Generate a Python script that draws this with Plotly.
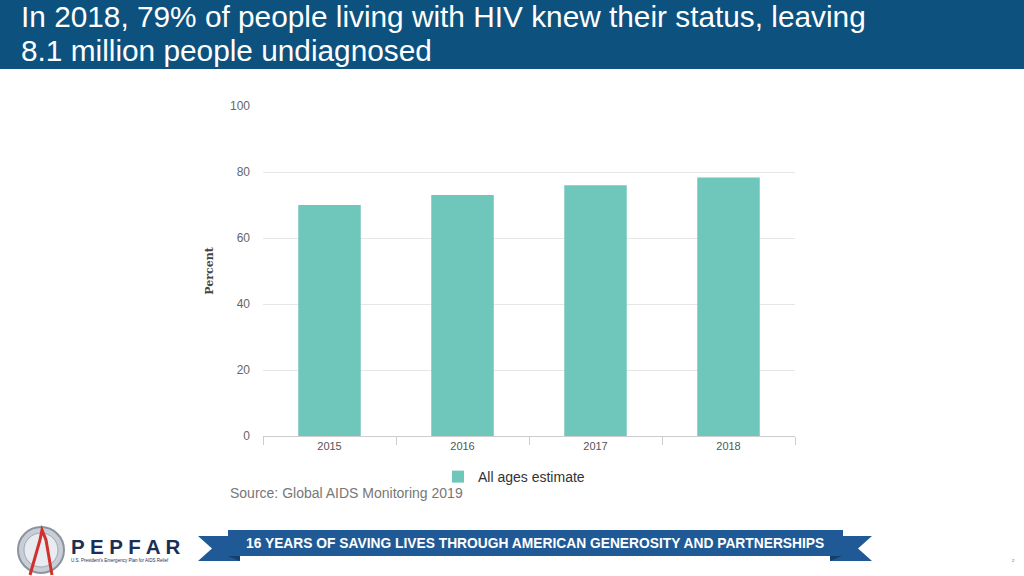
import plotly.graph_objects as go

years = ["2015", "2016", "2017", "2018"]
values = [70, 73, 76, 78.3]
y_ticks = [0, 20, 40, 60, 80, 100]

title_line1 = "In 2018, 79% of people living with HIV knew their status, leaving"
title_line2 = "8.1 million people undiagnosed"
source_text = "Source: Global AIDS Monitoring 2019"
banner_text = "16 YEARS OF SAVING LIVES THROUGH AMERICAN GENEROSITY AND PARTNERSHIPS"

W, H = 1024, 576
L, R, T, B = 263, 795, 106, 436

fig = go.Figure()
fig.add_trace(go.Bar(
    x=years, y=values, name="All ages estimate",
    marker=dict(color="#6FC7BB", line=dict(width=0)),
    hoverinfo="x+y",
))

fig.update_layout(
    width=W, height=H,
    margin=dict(l=L, r=W - R, t=T, b=H - B),
    paper_bgcolor="white", plot_bgcolor="white",
    bargap=0.53,
    showlegend=True,
    legend=dict(orientation="h", x=(438 - L) / (R - L), xanchor="left",
                y=(B - 477) / (B - T), yanchor="middle",
                font=dict(family="Liberation Sans, Arial", size=14, color="#333333"),
                itemsizing="constant", bgcolor="rgba(0,0,0,0)"),
    font=dict(family="Liberation Sans, Arial"),
)

fig.update_xaxes(
    type="category", tickson="boundaries", ticks="outside", ticklen=8,
    tickcolor="#cccccc", showline=True, linecolor="#cccccc", linewidth=1,
    tickfont=dict(size=11, color="#555555"), showgrid=False, fixedrange=True,
)
fig.update_yaxes(
    range=[0, 100], tickvals=y_ticks, showgrid=True, gridcolor="#e6e6e6",
    zeroline=False, tickfont=dict(size=12, color="#666666"), ticks="",
    ticklabelstandoff=12,
    title=dict(text="<b>Percent</b>", font=dict(family="DejaVu Serif, serif", size=11, color="#444444"), standoff=14),
)


def fx(x):
    return (x - L) / (R - L)


def fy(y):
    return (B - y) / (B - T)


shapes = [
    dict(type="rect", xref="paper", yref="paper", x0=fx(0), x1=fx(W), y0=fy(69), y1=fy(0),
         fillcolor="#0D527F", line=dict(width=0), layer="above"),
]


def path(pts):
    return "M " + " L ".join(f"{fx(x)},{fy(y)}" for x, y in pts) + " Z"


ribbon_main = "#1F5A96"
ribbon_dark = "#153F6B"
shapes.append(dict(type="path", xref="paper", yref="paper",
                   path=path([(198, 536), (240, 536), (240, 561), (198, 561), (212, 548.5)]),
                   fillcolor=ribbon_main, line=dict(width=0)))
shapes.append(dict(type="path", xref="paper", yref="paper",
                   path=path([(830, 536), (872, 536), (858, 548.5), (872, 561), (830, 561)]),
                   fillcolor=ribbon_main, line=dict(width=0)))
shapes.append(dict(type="path", xref="paper", yref="paper",
                   path=path([(228, 556), (240, 561), (240, 556)]),
                   fillcolor=ribbon_dark, line=dict(width=0)))
shapes.append(dict(type="path", xref="paper", yref="paper",
                   path=path([(830, 556), (842, 556), (830, 561)]),
                   fillcolor=ribbon_dark, line=dict(width=0)))
shapes.append(dict(type="rect", xref="paper", yref="paper", x0=fx(228), x1=fx(843), y0=fy(556), y1=fy(530),
                   fillcolor=ribbon_main, line=dict(width=0)))

# PEPFAR logo approximation
shapes.append(dict(type="circle", xref="paper", yref="paper", x0=fx(18), x1=fx(64), y0=fy(573), y1=fy(527),
                   fillcolor="#C9CED6", line=dict(color="#8A93A0", width=2)))
shapes.append(dict(type="circle", xref="paper", yref="paper", x0=fx(24), x1=fx(58), y0=fy(567), y1=fy(533),
                   fillcolor="#E8EBEF", line=dict(color="#A0A8B3", width=1)))
shapes.append(dict(type="path", xref="paper", yref="paper",
                   path=f"M {fx(30)},{fy(575)} L {fx(40)},{fy(540)} L {fx(42)},{fy(530)} L {fx(46)},{fy(540)} L {fx(52)},{fy(575)}",
                   line=dict(color="#D0312D", width=3), fillcolor="rgba(0,0,0,0)"))

annotations = [
    dict(text=title_line1, xref="paper", yref="paper", x=fx(19), y=fy(17), xanchor="left", yanchor="middle",
         showarrow=False, font=dict(family="Liberation Sans, Arial", size=29.8, color="white")),
    dict(text=title_line2, xref="paper", yref="paper", x=fx(19), y=fy(51), xanchor="left", yanchor="middle",
         showarrow=False, font=dict(family="Liberation Sans, Arial", size=29.8, color="white")),
    dict(text=source_text, xref="paper", yref="paper", x=fx(228), y=fy(493), xanchor="left", yanchor="middle",
         showarrow=False, font=dict(family="Liberation Sans, Arial", size=14, color="#777777")),
    dict(text="<b>" + banner_text + "</b>", xref="paper", yref="paper", x=fx(535), y=fy(543), xanchor="center",
         yanchor="middle", showarrow=False,
         font=dict(family="Liberation Sans, Arial", size=13.8, color="white")),
    dict(text="<b>P E P F A R</b>", xref="paper", yref="paper", x=fx(69), y=fy(546), xanchor="left",
         yanchor="middle", showarrow=False,
         font=dict(family="Liberation Sans, Arial", size=20.5, color="#1B2F55")),
    dict(text="U.S. President's Emergency Plan for AIDS Relief", xref="paper", yref="paper", x=fx(69), y=fy(560),
         xanchor="left", yanchor="middle", showarrow=False,
         font=dict(family="Liberation Sans, Arial", size=4.5, color="#1B2F55")),
    dict(text="2", xref="paper", yref="paper", x=fx(1013), y=fy(560), xanchor="center", yanchor="middle",
         showarrow=False, font=dict(family="Liberation Sans, Arial", size=4, color="#555555")),
]

fig.update_layout(shapes=shapes, annotations=annotations)

fig.write_html("out.html",
               config={"displayModeBar": False},
               post_script="document.body.style.margin='0';document.body.style.overflow='hidden';")
